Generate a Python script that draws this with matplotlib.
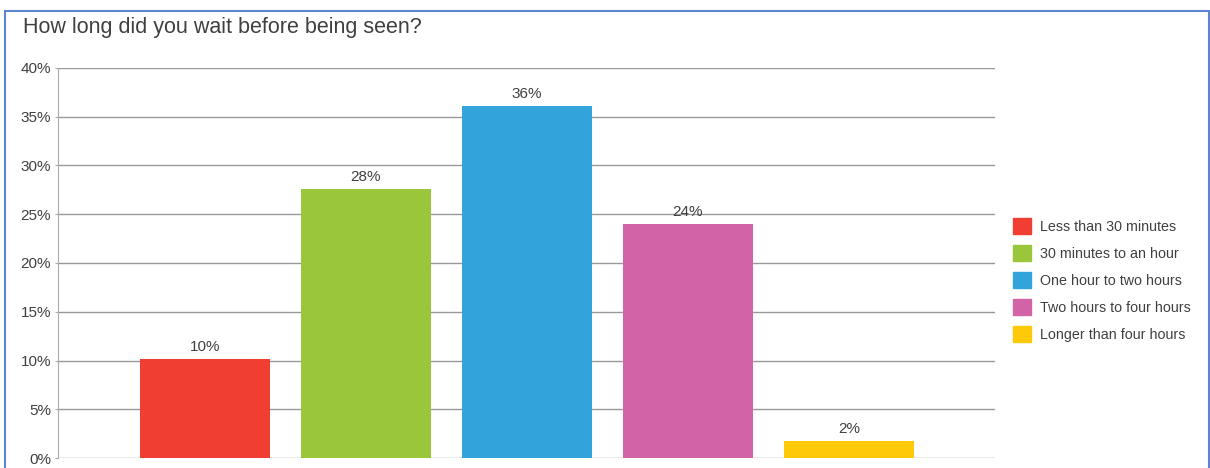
import numpy as np
import matplotlib.pyplot as plt
from matplotlib.patches import Rectangle

plt.rcParams['font.family'] = ['Liberation Sans', 'DejaVu Sans']

categories = ['Less than 30 minutes', '30 minutes to an hour', 'One hour to two hours',
              'Two hours to four hours', 'Longer than four hours']
shares = [10.2, 27.6, 36.1, 24.0, 1.8]
colors = ['#f03e32', '#99c63b', '#33a3dc', '#d263a6', '#fdc908']
yticks = [0, 5, 10, 15, 20, 25, 30, 35, 40]

fig = plt.figure(figsize=(12.1, 4.68), dpi=100)
ax = fig.add_axes([58 / 1210, 1 - 458.3 / 468, (995 - 58) / 1210, (458.3 - 67.7) / 468])

x = np.arange(len(shares))
ax.bar(x, shares, width=0.807, color=colors, zorder=3)
for xi, v in zip(x, shares):
    ax.text(xi, v + 0.5, f'{round(v)}%', ha='center', va='bottom',
            fontsize=11, color='#404040', zorder=4)

ax.set_xlim(-0.913, 4.907)
ax.set_ylim(0, 40)
ax.set_yticks(yticks)
ax.set_yticklabels([f'{t}%' for t in yticks])
ax.set_xticks([])
ax.grid(axis='y', color='#999999', linewidth=1.0, zorder=0)
for s in ['top', 'right', 'bottom']:
    ax.spines[s].set_visible(False)
ax.spines['left'].set_color('#aaaaaa')
ax.tick_params(axis='y', length=2, color='#aaaaaa', labelsize=11,
               labelcolor='#404040', pad=3)

handles = [Rectangle((0, 0), 1, 1, color=c) for c in colors]
fig.legend(handles, categories, loc='center left', bbox_to_anchor=(1000 / 1210, 1 - 280 / 468),
           frameon=False, fontsize=10.3, handlelength=1.3, handleheight=1.3,
           labelspacing=0.8, handletextpad=0.6, labelcolor='#404040')

fig.text(23 / 1210, 1 - 28 / 468, 'How long did you wait before being seen?',
         fontsize=15.5, color='#404040', va='center', ha='left')

# blue frame round the chart
fig.add_artist(Rectangle((5 / 1210, -0.05), 1204 / 1210, 1.05 - 11 / 468,
                         transform=fig.transFigure, fill=False,
                         edgecolor='#5a86d0', linewidth=1.5))

fig.savefig('out.png', dpi=100)
